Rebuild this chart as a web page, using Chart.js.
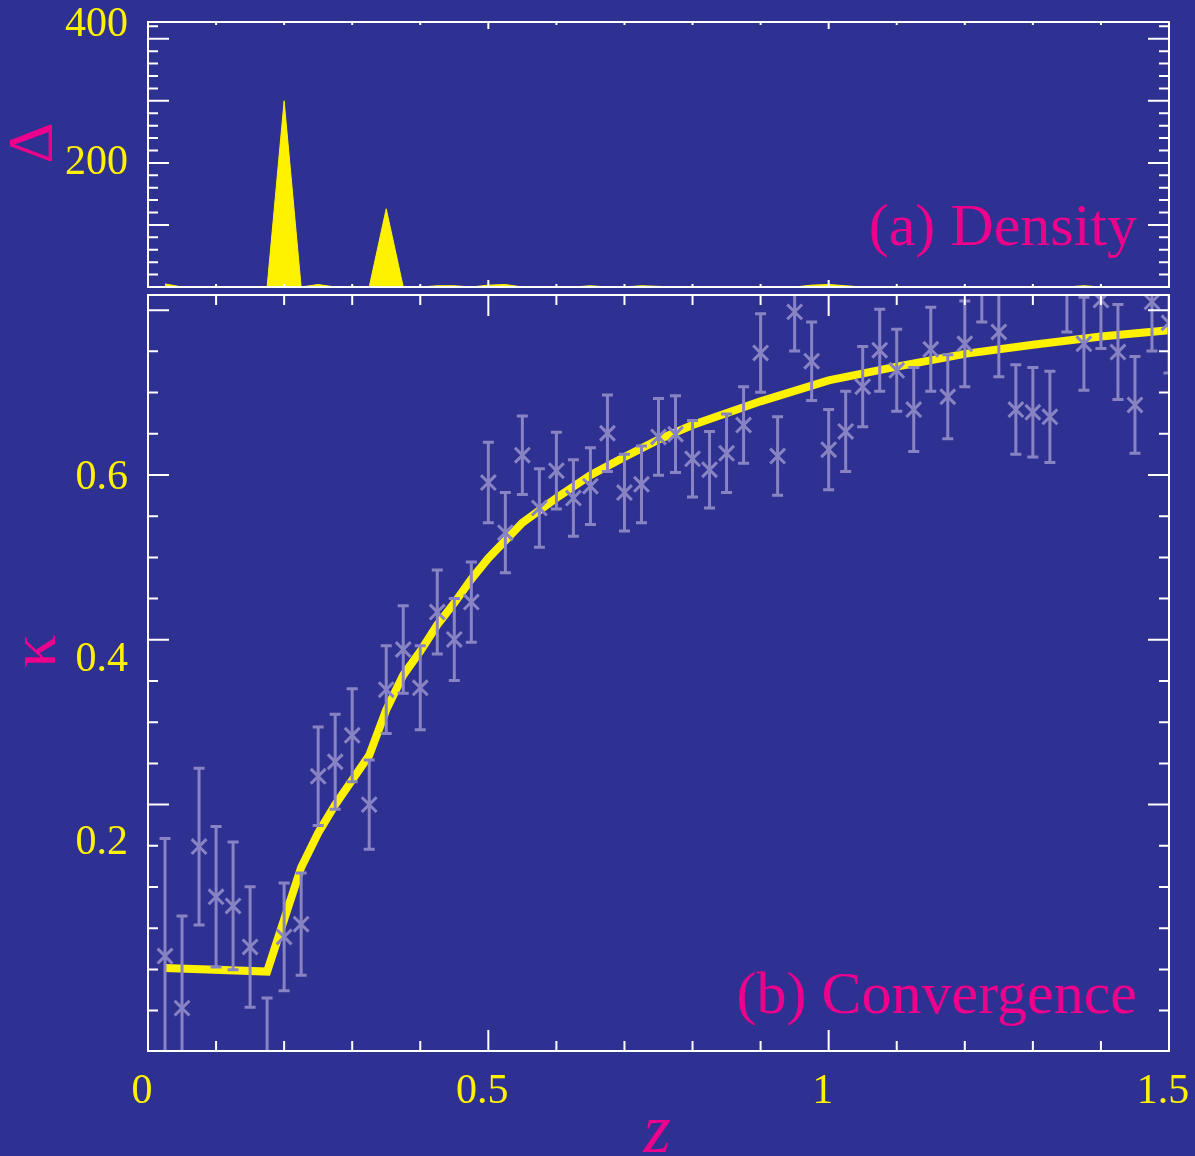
<!DOCTYPE html>
<html>
<head>
<meta charset="utf-8">
<title>Density and convergence</title>
<script src="https://cdn.jsdelivr.net/npm/chart.js@4.4.1/dist/chart.umd.min.js"></script>
<style>
  html, body { margin: 0; padding: 0; background: #2E3192; overflow: hidden; width: 1195px; height: 1156px; }
  #topWrap { position: absolute; left: 0; top: 0; width: 1195px; height: 290px; }
  #botWrap { position: absolute; left: 0; top: 290px; width: 1195px; height: 900px; }
</style>
</head>
<body>
<div id="topWrap"><canvas id="densityChart"></canvas></div>
<div id="botWrap"><canvas id="kappaChart"></canvas></div>
<script>
// ---- data ----
// redshift bins (shared by density and convergence points)
const zValues = [0.025, 0.05, 0.075, 0.1, 0.125, 0.15, 0.175, 0.2, 0.225, 0.25,
  0.275, 0.3, 0.325, 0.35, 0.375, 0.4, 0.425, 0.45, 0.475, 0.5,
  0.525, 0.55, 0.575, 0.6, 0.625, 0.65, 0.675, 0.7, 0.725, 0.75,
  0.775, 0.8, 0.825, 0.85, 0.875, 0.9, 0.925, 0.95, 0.975, 1.0,
  1.025, 1.05, 1.075, 1.1, 1.125, 1.15, 1.175, 1.2, 1.225, 1.25,
  1.275, 1.3, 1.325, 1.35, 1.375, 1.4, 1.425, 1.45, 1.475, 1.5];

// (a) density contrast per bin
const density = [5, 0, 0, 0, 0, 0, 0, 300, 0, 4,
  0, 0, 0, 126, 0, 0, 2, 2, 0, 3,
  4, 0, 0, 0, 0, 2, 0, 0, 2, 1,
  0, 0, 0, 0, 0, 0, 0, 0, 3, 4,
  2, 0, 0, 0, 0, 0, 0, 0, 0, 0,
  0, 0, 0, 0, 2, 0, 0, 0, 0, 0];

// (b) measured convergence and its error
const kappa = [0.076, 0.019, 0.196, 0.141, 0.131, 0.086, -0.040, 0.097, 0.111, 0.273,
  0.289, 0.318, 0.242, 0.368, 0.412, 0.370, 0.453, 0.423, 0.464, 0.595,
  0.540, 0.625, 0.567, 0.608, 0.578, 0.591, 0.649, 0.584, 0.593, 0.645,
  0.648, 0.621, 0.609, 0.627, 0.658, 0.737, 0.624, 0.782, 0.728, 0.631,
  0.651, 0.700, 0.740, 0.718, 0.675, 0.741, 0.689, 0.747, 0.818, 0.760,
  0.675, 0.672, 0.667, 0.810, 0.747, 0.795, 0.738, 0.680, 0.793, 0.770];
const kappaErr = [0.129, 0.101, 0.086, 0.077, 0.070, 0.066, 0.070, 0.059, 0.056, 0.054,
  0.052, 0.051, 0.049, 0.048, 0.048, 0.046, 0.046, 0.045, 0.044, 0.044,
  0.044, 0.043, 0.043, 0.042, 0.042, 0.042, 0.042, 0.042, 0.042, 0.042,
  0.042, 0.042, 0.042, 0.043, 0.042, 0.043, 0.043, 0.043, 0.043, 0.044,
  0.044, 0.044, 0.045, 0.045, 0.046, 0.046, 0.046, 0.047, 0.047, 0.049,
  0.049, 0.049, 0.050, 0.050, 0.051, 0.053, 0.052, 0.053, 0.054, 0.055];

// model curve (yellow line)
const zModel = [0.025, 0.175, 0.2, 0.225, 0.25, 0.275, 0.3, 0.325, 0.35, 0.375,
  0.4, 0.425, 0.45, 0.475, 0.5, 0.55, 0.6, 0.65, 0.7, 0.75,
  0.8, 0.9, 1.0, 1.1, 1.2, 1.3, 1.4, 1.5];
const kappaModel = [0.063, 0.059, 0.116, 0.173, 0.211, 0.242, 0.269, 0.296, 0.346, 0.384,
  0.410, 0.439, 0.463, 0.489, 0.512, 0.551, 0.578, 0.603, 0.623, 0.642,
  0.658, 0.684, 0.707, 0.722, 0.736, 0.746, 0.755, 0.762];

// axis labels
const zTickLabels = [0, 0.5, 1, 1.5];
const densityTickLabels = [200, 400];
const kappaTickLabels = [0.2, 0.4, 0.6];

// tick marks drawn inside the frames
const zTickMarks = [0.1, 0.2, 0.3, 0.4, 0.5, 0.6, 0.7, 0.8, 0.9, 1.0, 1.1, 1.2, 1.3, 1.4];
const zTickMajor = [0.5, 1.0];
const densityTickMarks = [20, 40, 60, 80, 100, 120, 140, 160, 180, 200, 220, 240,
  260, 280, 300, 320, 340, 360, 380, 400, 420];
const densityTickMajor = [100, 200, 300, 400];
const kappaTickMarks = [-0.05, 0, 0.05, 0.1, 0.15, 0.2, 0.25, 0.3, 0.35, 0.4,
  0.45, 0.5, 0.55, 0.6, 0.65, 0.7, 0.75, 0.8];
const kappaTickMajor = [0.2, 0.4, 0.6, 0.8];

// ---- style ----
const YELLOW = "#FFF200";
const PINK = "#EC008C";
const WHITE = "#FFFFFF";
const LAVENDER = "#8884C4";
const SERIF = "'Liberation Serif', 'Times New Roman', serif";

function isMajor(list, v) {
  return list.some(m => Math.abs(m - v) < 1e-9);
}

// frame + inward tick marks on all four sides
function framePlugin(cfg) {
  return {
    id: "frame",
    afterDraw(chart) {
      const { ctx, chartArea: a, scales } = chart;
      const xs = scales.x, ys = scales.yt;
      ctx.save();
      ctx.strokeStyle = WHITE;
      ctx.lineWidth = 2;
      ctx.beginPath();
      cfg.xTicks.forEach(v => {
        const px = xs.getPixelForValue(v);
        const len = isMajor(cfg.xMajor, v) ? cfg.xLong : cfg.xShort;
        ctx.moveTo(px, a.bottom); ctx.lineTo(px, a.bottom - len);
        ctx.moveTo(px, a.top); ctx.lineTo(px, a.top + len);
      });
      cfg.yTicks.forEach(v => {
        const py = ys.getPixelForValue(v);
        const len = isMajor(cfg.yMajor, v) ? cfg.yLong : cfg.yShort;
        ctx.moveTo(a.left, py); ctx.lineTo(a.left + len, py);
        ctx.moveTo(a.right, py); ctx.lineTo(a.right - len, py);
      });
      ctx.stroke();
      ctx.strokeRect(a.left, a.top, a.right - a.left, a.bottom - a.top);
      ctx.restore();
    }
  };
}

// rotated axis symbol + panel caption
function textPlugin(cfg) {
  return {
    id: "texts",
    afterDraw(chart) {
      const { ctx } = chart;
      ctx.save();
      ctx.fillStyle = PINK;
      // caption
      ctx.font = "60px " + SERIF;
      ctx.textAlign = "right";
      ctx.textBaseline = "alphabetic";
      ctx.fillText(cfg.caption, cfg.capX, cfg.capY);
      // rotated y symbol
      ctx.save();
      ctx.translate(cfg.symX, cfg.symY);
      ctx.rotate(-Math.PI / 2);
      ctx.font = cfg.symSize + "px " + SERIF;
      ctx.textAlign = "center";
      ctx.textBaseline = "middle";
      ctx.fillText(cfg.symbol, 0, 0);
      ctx.restore();
      // x symbol
      if (cfg.xSymbol) {
        ctx.font = "italic 70px " + SERIF;
        ctx.textAlign = "center";
        ctx.textBaseline = "alphabetic";
        ctx.fillText(cfg.xSymbol, cfg.xSymX, cfg.xSymY);
      }
      ctx.restore();
    }
  };
}

// vertical error bars with caps
const errorBars = {
  id: "errorBars",
  afterDatasetsDraw(chart) {
    const { ctx, chartArea: a, scales: { x, y } } = chart;
    ctx.save();
    ctx.beginPath();
    ctx.rect(a.left, a.top, a.right - a.left, a.bottom - a.top);
    ctx.clip();
    ctx.strokeStyle = LAVENDER;
    ctx.lineWidth = 3;
    ctx.beginPath();
    zValues.forEach((z, i) => {
      const px = x.getPixelForValue(z);
      const lo = y.getPixelForValue(kappa[i] - kappaErr[i]);
      const hi = y.getPixelForValue(kappa[i] + kappaErr[i]);
      ctx.moveTo(px, lo); ctx.lineTo(px, hi);
      ctx.moveTo(px - 5.5, lo); ctx.lineTo(px + 5.5, lo);
      ctx.moveTo(px - 5.5, hi); ctx.lineTo(px + 5.5, hi);
    });
    ctx.stroke();
    ctx.restore();
  }
};

const tickFont = { family: SERIF, size: 42 };

// -------- (a) Density --------
new Chart(document.getElementById("densityChart"), {
  type: "line",
  data: {
    datasets: [{
      data: zValues.map((z, i) => ({ x: z, y: density[i] })),
      yAxisID: "yt",
      borderColor: YELLOW,
      backgroundColor: YELLOW,
      borderWidth: 1,
      pointRadius: 0,
      fill: "origin",
      tension: 0,
      clip: 0
    }]
  },
  options: {
    responsive: true,
    maintainAspectRatio: false,
    animation: false,
    events: [],
    layout: { autoPadding: false, padding: { top: 22, right: 26, bottom: 3, left: 0 } },
    plugins: { legend: { display: false }, tooltip: { enabled: false } },
    scales: {
      x: { type: "linear", min: 0, max: 1.5, display: false },
      y: {
        type: "linear", position: "left", min: 20.3, max: 404.3,
        afterBuildTicks: s => { s.ticks = densityTickLabels.map(v => ({ value: v })); },
        afterFit: s => { s.width = 148; s.paddingTop = 0; s.paddingBottom = 0; },
        grid: { display: false, drawTicks: false },
        border: { display: false },
        ticks: { color: YELLOW, font: tickFont, padding: 20, autoSkip: false, callback: v => String(v) }
      },
      yt: { type: "linear", position: "left", min: 0, max: 427, display: false }
    }
  },
  plugins: [
    textPlugin({ caption: "(a) Density", capX: 1137, capY: 245, symbol: "\u0394", symX: 35, symY: 143, symSize: 64 }),
    framePlugin({ xTicks: zTickMarks, xMajor: zTickMajor, xShort: 3, xLong: 7,
      yTicks: densityTickMarks, yMajor: densityTickMajor, yShort: 10, yLong: 21 })
  ]
});

// -------- (b) Convergence --------
new Chart(document.getElementById("kappaChart"), {
  data: {
    datasets: [
      {
        type: "line",
        data: zModel.map((z, i) => ({ x: z, y: kappaModel[i] })),
        borderColor: YELLOW,
        borderWidth: 8,
        pointRadius: 0,
        tension: 0,
        fill: false,
        order: 2,
        clip: 0
      },
      {
        type: "scatter",
        data: zValues.map((z, i) => ({ x: z, y: kappa[i] })),
        pointStyle: "crossRot",
        pointRadius: 10.5,
        borderColor: LAVENDER,
        backgroundColor: LAVENDER,
        borderWidth: 3,
        order: 1,
        clip: 0
      }
    ]
  },
  options: {
    responsive: true,
    maintainAspectRatio: false,
    animation: false,
    events: [],
    layout: { autoPadding: false, padding: { top: 5, right: 26, bottom: 0, left: 0 } },
    plugins: { legend: { display: false }, tooltip: { enabled: false } },
    scales: {
      x: {
        type: "linear", position: "bottom", min: 0, max: 1.5,
        afterBuildTicks: s => { s.ticks = zTickLabels.map(v => ({ value: v })); },
        afterFit: s => { s.height = 139; s.paddingLeft = 0; s.paddingRight = 0; },
        grid: { display: false, drawTicks: false },
        border: { display: false },
        ticks: { color: YELLOW, font: tickFont, padding: 16, labelOffset: -6, maxRotation: 0, autoSkip: false, callback: v => String(v) }
      },
      y: {
        type: "linear", position: "left", min: -0.028, max: 0.8005,
        afterBuildTicks: s => { s.ticks = kappaTickLabels.map(v => ({ value: v })); },
        afterFit: s => { s.width = 148; s.paddingTop = 0; s.paddingBottom = 0; },
        grid: { display: false, drawTicks: false },
        border: { display: false },
        ticks: { color: YELLOW, font: tickFont, padding: 20, autoSkip: false, callback: v => String(v) }
      },
      yt: { type: "linear", position: "left", min: -0.099, max: 0.8184, display: false }
    }
  },
  plugins: [
    errorBars,
    textPlugin({ caption: "(b) Convergence", capX: 1137, capY: 723, symbol: "\u03BA", symX: 38, symY: 361, symSize: 66,
      xSymbol: "z", xSymX: 657, xSymY: 862 }),
    framePlugin({ xTicks: zTickMarks, xMajor: zTickMajor, xShort: 10, xLong: 21,
      yTicks: kappaTickMarks, yMajor: kappaTickMajor, yShort: 10, yLong: 21 })
  ]
});
</script>
</body>
</html>
